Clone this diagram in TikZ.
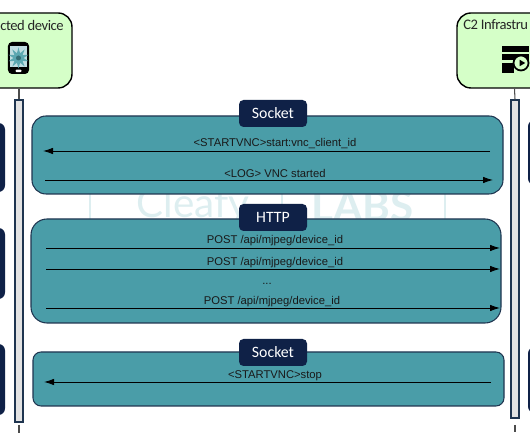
\documentclass[tikz,border=0pt]{standalone}
\usepackage{fontspec}
\setmainfont{Liberation Sans}
\newfontfamily\headfont{Carlito}
\newfontfamily\actorfont[LetterSpace=-3]{Carlito}
\newfontfamily\markfont{Lato}
\usepackage{tikz}
\usetikzlibrary{shapes.geometric, arrows.meta, positioning, calc}
\definecolor{actorgreen}{HTML}{D5FFC8}
\definecolor{panelteal}{HTML}{4A9DA8}
\definecolor{navy}{HTML}{0F2147}
\definecolor{barline}{HTML}{1F3550}
\definecolor{markcolor}{HTML}{DDEEF0}
\tikzset{
    actor/.style={rectangle, draw=black, line width=0.8pt, rounded corners=0.28cm, fill=actorgreen},
    actorlabel/.style={inner sep=0pt, font=\actorfont\fontsize{8.3}{10}\selectfont, text=black!85},
    panel/.style={rectangle, draw=barline, line width=0.6pt, fill=panelteal},
    tab/.style={rectangle, rounded corners=0.09cm, fill=navy, text=white, minimum width=1.36cm, minimum height=0.54cm, inner sep=0pt, font=\headfont\fontsize{9}{10}\selectfont},
    sidebox/.style={rectangle, rounded corners=0.13cm, fill=navy, minimum width=0.64cm, inner sep=0pt},
    lifebar/.style={rectangle, draw=barline, line width=0.6pt, fill=black!11, minimum width=0.16cm, inner sep=0pt},
    lifeline/.style={draw=black!70, line width=0.6pt},
    arrow/.style={-{Latex[length=0.2cm,width=0.13cm]}, line width=0.5pt, black},
    msg/.style={inner sep=0pt, font=\fontsize{6.4}{8}\selectfont, text=black!90}
}
\begin{document}
\begin{tikzpicture}
            \clip (0,0) rectangle (10.6,8.84);
            \fill[white] (0,0) rectangle (10.6,8.84);

            % Watermark
            \foreach \xmark in {1.80,5.64,8.90} {
                \draw[markcolor, line width=1pt] (\xmark,4.4) -- (\xmark,5.0);
            }
            \node (markleft) at (3.86,4.72) [inner sep=0pt, text=markcolor, font=\markfont\fontsize{23}{24}\selectfont] {Cleafy};
            \node (markright) at (7.25,4.72) [inner sep=0pt, text=markcolor, font=\markfont\bfseries\fontsize{24}{24}\selectfont] {LABS};

            % Side boxes
            \node (sideA) at (-0.22,5.69) [sidebox, minimum height=1.38cm] {};
            \node (sideB) at (-0.22,3.57) [sidebox, minimum height=1.42cm] {};
            \node (sideC) at (-0.22,1.25) [sidebox, minimum height=1.42cm] {};
            \node (sideD) at (10.88,5.79) [sidebox, minimum height=1.30cm] {};
            \node (sideE) at (10.88,1.24) [sidebox, minimum height=1.32cm] {};

            % Actors
            \node (device) at (0.38,7.83) [actor, minimum width=2.12cm, minimum height=1.5cm] {};
            \node (infra) at (10.29,7.83) [actor, minimum width=2.30cm, minimum height=1.5cm] {};
            \node (devicelabel) at (1.28,8.34) [actorlabel, anchor=east] {cted device};
            \node (infralabel) at (9.26,8.34) [actorlabel, anchor=west] {C2 Infrastru};

            % Phone icon
            \node (phone) at (0.37,7.68) [rectangle, rounded corners=0.08cm, fill=black, minimum width=0.42cm, minimum height=0.64cm, inner sep=0pt] {};
            \node (screen) at (0.37,7.70) [rectangle, fill=panelteal!35, minimum width=0.34cm, minimum height=0.42cm, inner sep=0pt] {};
            \node (virus) at (0.37,7.68) [star, star points=10, star point ratio=2.1, fill=panelteal!90, minimum size=0.42cm, inner sep=0pt] {};
            \node (viruscore) at (0.37,7.68) [circle, fill=panelteal!70!black, minimum size=0.1cm, inner sep=0pt] {};
            \node (homekey) at (0.37,7.42) [rectangle, rounded corners=0.02cm, fill=white, minimum width=0.12cm, minimum height=0.05cm, inner sep=0pt] {};

            % Server icon
            \node (rackA) at (10.30,7.86) [rectangle, fill=black, minimum width=0.54cm, minimum height=0.13cm, inner sep=0pt] {};
            \node (rackB) at (10.30,7.70) [rectangle, fill=black, minimum width=0.54cm, minimum height=0.13cm, inner sep=0pt] {};
            \node (rackC) at (10.15,7.48) [rectangle, fill=black, minimum width=0.24cm, minimum height=0.2cm, inner sep=0pt] {};
            \node (dial) at (10.42,7.58) [circle, draw=black, line width=1pt, fill=actorgreen, minimum size=0.3cm, inner sep=0pt] {};
            \node (play) at (10.43,7.58) [regular polygon, regular polygon sides=3, shape border rotate=-90, fill=black, minimum size=0.15cm, inner sep=0pt] {};

            % Life lines
            \node (barleft) at (0.38,3.62) [lifebar, minimum height=6.44cm] {};
            \node (barright) at (10.30,3.66) [lifebar, minimum height=6.36cm] {};
            \draw[lifeline] (device.south) -- (barleft.north);
            \draw[lifeline] (infra.south) -- (barright.north);
            \coordinate (tickleftA) at (0.38,0.34);
            \coordinate (tickleftB) at (0.38,0.18);
            \coordinate (tickrightA) at (10.30,0.34);
            \coordinate (tickrightB) at (10.30,0.20);
            \draw[lifeline] (tickleftA) -- (tickleftB);
            \draw[lifeline] (tickrightA) -- (tickrightB);

            % Panels
            \node (panelA) at (5.35,5.74) [panel, rounded corners=0.28cm, minimum width=9.42cm, minimum height=1.56cm] {};
            \node (panelB) at (5.32,3.42) [panel, rounded corners=0.32cm, minimum width=9.40cm, minimum height=2.08cm] {};
            \node (panelC) at (5.37,1.26) [panel, rounded corners=0.16cm, minimum width=9.42cm, minimum height=1.08cm] {};
            \node (tabA) at (5.46,6.57) [tab] {Socket};
            \node (tabB) at (5.46,4.49) [tab] {HTTP};
            \node (tabC) at (5.46,1.79) [tab] {Socket};

            % Messages
            \coordinate (startA) at (9.80,5.82);
            \coordinate (endA) at (0.86,5.82);
            \coordinate (startB) at (0.90,5.24);
            \coordinate (endB) at (9.86,5.24);
            \coordinate (startC) at (0.92,3.88);
            \coordinate (endC) at (10.00,3.88);
            \coordinate (startD) at (0.92,3.46);
            \coordinate (endD) at (10.00,3.46);
            \coordinate (startE) at (0.92,2.68);
            \coordinate (endE) at (10.00,2.68);
            \coordinate (startF) at (9.82,1.20);
            \coordinate (endF) at (0.88,1.20);
            \draw[arrow] (startA) -- (endA);
            \draw[arrow] (startB) -- (endB);
            \draw[arrow] (startC) -- (endC);
            \draw[arrow] (startD) -- (endD);
            \draw[arrow] (startE) -- (endE);
            \draw[arrow] (startF) -- (endF);

            % Labels
            \node (msgA) at (5.50,5.96) [msg] {<STARTVNC>start:vnc\_client\_id};
            \node (msgB) at (5.50,5.38) [msg] {<LOG> VNC started};
            \node (msgC) at (5.50,4.03) [msg] {POST /api/mjpeg/device\_id};
            \node (msgD) at (5.50,3.59) [msg] {POST /api/mjpeg/device\_id};
            \node (msgE) at (5.34,3.16) [msg] {...};
            \node (msgF) at (5.44,2.80) [msg] {POST /api/mjpeg/device\_id};
            \node (msgG) at (5.50,1.32) [msg] {<STARTVNC>stop};
		\end{tikzpicture}
\end{document}
